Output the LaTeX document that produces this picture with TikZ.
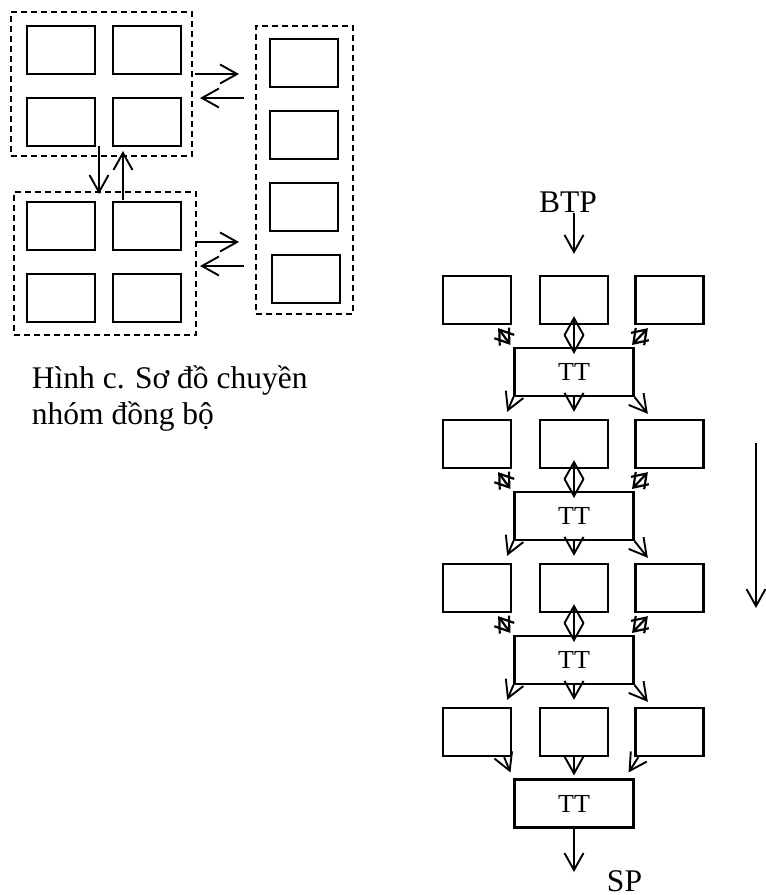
\documentclass[tikz,border=0pt]{standalone}
\usepackage{fontspec}
\setmainfont{Liberation Serif}
\usetikzlibrary{arrows.meta}

\tikzset{
  box/.style={draw,line width=1.15pt,minimum width=34pt,minimum height=24pt,inner sep=0pt},
  ttbox/.style={draw,line width=1.05pt,minimum width=59.5pt,minimum height=24pt,inner sep=0pt,font=\fontsize{13}{15}\selectfont},
  grp/.style={draw,line width=1.1pt,dash pattern=on 3pt off 2pt,inner sep=0pt},
  lbl/.style={inner sep=0pt,font=\fontsize{15.75}{18}\selectfont},
  tiny/.style={line width=1.1pt,{Straight Barb[length=6.5pt,width=9pt]}-{Straight Barb[length=6.5pt,width=9pt]}}
}

\begin{document}
\begin{tikzpicture}[x=0.5pt,y=-0.5pt,line width=0.95pt,>={Straight Barb[length=8.5pt,width=9.5pt]}]
  \useasboundingbox (0,0) rectangle (766,895);
  % nhom ben trai
  \node[grp,minimum width=90.5pt,minimum height=72pt] (g1) at (101.5,84) {};
  \node[grp,minimum width=91pt,minimum height=71.5pt] (g2) at (105,263.5) {};
  \node[grp,minimum width=48.5pt,minimum height=144pt] (g3) at (304.5,170) {};
  \node[box] (b11) at (61,50) {};
  \node[box] (b12) at (147,50) {};
  \node[box] (b13) at (61,122) {};
  \node[box] (b14) at (147,122) {};
  \node[box] (c11) at (61,226) {};
  \node[box] (c12) at (147,226) {};
  \node[box] (c13) at (61,298) {};
  \node[box] (c14) at (147,298) {};
  \node[box] (d1) at (304,63) {};
  \node[box] (d2) at (304,135) {};
  \node[box] (d3) at (304,207) {};
  \node[box] (d4) at (306,279) {};
  \coordinate (a1) at (195,74);  \coordinate (a2) at (239,74);
  \coordinate (a3) at (244,98);  \coordinate (a4) at (200,98);
  \coordinate (a5) at (195,242); \coordinate (a6) at (239,242);
  \coordinate (a7) at (244,266); \coordinate (a8) at (200,266);
  \coordinate (v1) at (99,146);  \coordinate (v2) at (99,194);
  \coordinate (v3) at (123,200); \coordinate (v4) at (123,151);
  \draw[->] (a1)--(a2);
  \draw[->] (a3)--(a4);
  \draw[->] (a5)--(a6);
  \draw[->] (a7)--(a8);
  \draw[->] (v1)--(v2);
  \draw[->] (v3)--(v4);
  \node[lbl,anchor=base west] (cap1) at (31,388) {Hình c. Sơ đồ chuyền};
  \node[lbl,anchor=base west] (cap2) at (31,424) {nhóm đồng bộ};
  % day chuyen ben phai
  \node[lbl,anchor=base] (btp) at (568,212) {BTP};
  \node[box] (r11) at (477,300) {};
  \node[box] (r12) at (574,300) {};
  \node[box] (r13) at (669.5,300) {};
  \node[ttbox] (t1) at (574,372) {TT};
  \node[box] (r21) at (477,444) {};
  \node[box] (r22) at (574,444) {};
  \node[box] (r23) at (669.5,444) {};
  \node[ttbox] (t2) at (574,516) {TT};
  \node[box] (r31) at (477,588) {};
  \node[box] (r32) at (574,588) {};
  \node[box] (r33) at (669.5,588) {};
  \node[ttbox] (t3) at (574,660) {TT};
  \node[box] (r41) at (477,732) {};
  \node[box] (r42) at (574,732) {};
  \node[box] (r43) at (669.5,732) {};
  \node[ttbox] (t4) at (574,803.5) {TT};
  \node[lbl,anchor=base] (sp) at (624.5,891) {SP};
  \coordinate (out) at (574,872);
  \coordinate (m1) at (756,443);
  \coordinate (m2) at (756,608);
  \draw[->] (btp.south -| r12) -- ([yshift=10.5pt]r12.north);
  % hang 1
  \draw[tiny] ([shift={(-7pt,-1.5pt)}]r11.south east) -- ([shift={(-1.5pt,1pt)}]t1.north west);
  \draw[<->] ([yshift=4.5pt]r12.south) -- ([yshift=-3.5pt]t1.north);
  \draw[tiny] ([shift={(6.75pt,-1.5pt)}]r13.south west) -- ([shift={(-1.25pt,1pt)}]t1.north east);
  \draw[->] (t1.south west) -- ([shift={(-2.5pt,3.5pt)}]r21.north east);
  \draw[->] (t1.south) -- ([yshift=3.5pt]r22.north);
  \draw[->] (t1.south east) -- ([shift={(6.75pt,2.5pt)}]r23.north west);
  % hang 2
  \draw[tiny] ([shift={(-7pt,-1.5pt)}]r21.south east) -- ([shift={(-1.5pt,1pt)}]t2.north west);
  \draw[<->] ([yshift=4.5pt]r22.south) -- ([yshift=-3.5pt]t2.north);
  \draw[tiny] ([shift={(6.75pt,-1.5pt)}]r23.south west) -- ([shift={(-1.25pt,1pt)}]t2.north east);
  \draw[->] (t2.south west) -- ([shift={(-2.5pt,3.5pt)}]r31.north east);
  \draw[->] (t2.south) -- ([yshift=3.5pt]r32.north);
  \draw[->] (t2.south east) -- ([shift={(6.75pt,2.5pt)}]r33.north west);
  % hang 3
  \draw[tiny] ([shift={(-7pt,-1.5pt)}]r31.south east) -- ([shift={(-1.5pt,1pt)}]t3.north west);
  \draw[<->] ([yshift=4.5pt]r32.south) -- ([yshift=-3.5pt]t3.north);
  \draw[tiny] ([shift={(6.75pt,-1.5pt)}]r33.south west) -- ([shift={(-1.25pt,1pt)}]t3.north east);
  \draw[->] (t3.south west) -- ([shift={(-2.5pt,3.5pt)}]r41.north east);
  \draw[->] (t3.south) -- ([yshift=3.5pt]r42.north);
  \draw[->] (t3.south east) -- ([shift={(6.75pt,2.5pt)}]r43.north west);
  % hang 4
  \draw[->] ([xshift=-4pt]r41.south east) -- ([shift={(-1.5pt,3pt)}]t4.north west);
  \draw[->] (r42.south) -- ([yshift=1.5pt]t4.north);
  \draw[->] ([xshift=2pt]r43.south west) -- ([shift={(-3pt,3pt)}]t4.north east);
  \draw[->] (t4.south) -- (out);
  \draw[->] (m1) -- (m2);
\end{tikzpicture}
\end{document}
